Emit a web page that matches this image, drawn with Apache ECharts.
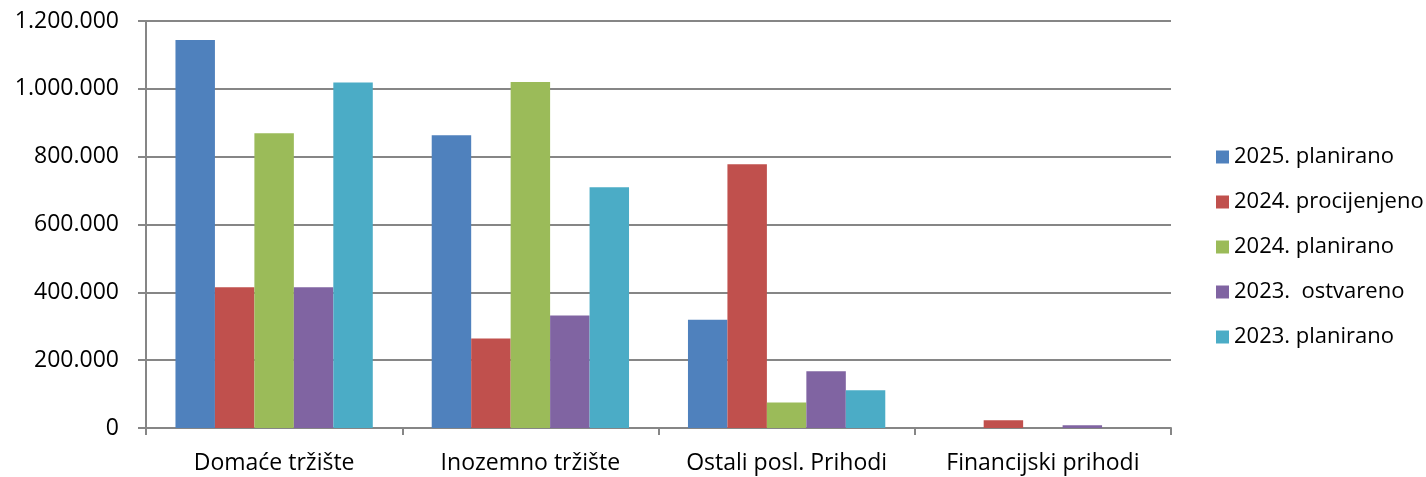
<!DOCTYPE html>
<html>
<head>
<meta charset="utf-8">
<script src="https://cdn.jsdelivr.net/npm/echarts@6/dist/echarts.min.js"></script>
<style>
  html, body { margin: 0; padding: 0; background: #fff; }
  #chart { width: 1426px; height: 477px; }
</style>
</head>
<body>
<div id="chart"></div>
<script>
const categories = ["Domaće tržište", "Inozemno tržište", "Ostali posl. Prihodi", "Financijski prihodi"];
const seriesNames = ["2025. planirano", "2024. procijenjeno", "2024. planirano", "2023.  ostvareno", "2023. planirano"];
const plan2025 = [1144000, 863000, 319000, 0];
const procj2024 = [415000, 264000, 778000, 23000];
const plan2024 = [869000, 1020000, 75000, 0];
const ostv2023 = [415000, 332000, 167000, 8000];
const plan2023 = [1019000, 710000, 111000, 0];
const colors = ["#4F81BD", "#C0504D", "#9BBB59", "#8064A2", "#4BACC6"];

const fontFamily = "'Open Sans', sans-serif";
const allData = [plan2025, procj2024, plan2024, ostv2023, plan2023];

const chart = echarts.init(document.getElementById("chart"));
chart.setOption({
  animation: false,
  color: colors,
  textStyle: { fontFamily: fontFamily },
  grid: { left: 146, right: 255, top: 21, bottom: 49 },
  legend: {
    orient: "vertical",
    left: 1211,
    top: 141,
    itemWidth: 13,
    itemHeight: 13,
    itemGap: 23,
    icon: "rect",
    textStyle: { fontSize: 22, color: "#000", fontFamily: fontFamily },
    data: seriesNames
  },
  xAxis: {
    type: "category",
    data: categories,
    axisLine: { lineStyle: { color: "#868686", width: 2 } },
    axisTick: { show: true, interval: 0, length: 7, lineStyle: { color: "#868686", width: 2 } },
    axisLabel: { interval: 0, fontSize: 23, color: "#000", margin: 24 }
  },
  yAxis: {
    type: "value",
    min: 0,
    max: 1200000,
    interval: 200000,
    axisLine: { show: true, lineStyle: { color: "#868686", width: 2 } },
    axisTick: { show: true, length: 8, lineStyle: { color: "#868686", width: 2 } },
    splitLine: { lineStyle: { color: "#868686", width: 2 } },
    axisLabel: {
      fontSize: 23,
      color: "#000",
      margin: 27,
      formatter: v => String(v).replace(/\B(?=(\d{3})+(?!\d))/g, ".")
    }
  },
  series: seriesNames.map((name, i) => ({
    name: name,
    type: "bar",
    data: allData[i],
    barGap: "0%",
    barCategoryGap: "23%"
  }))
});
</script>
</body>
</html>
